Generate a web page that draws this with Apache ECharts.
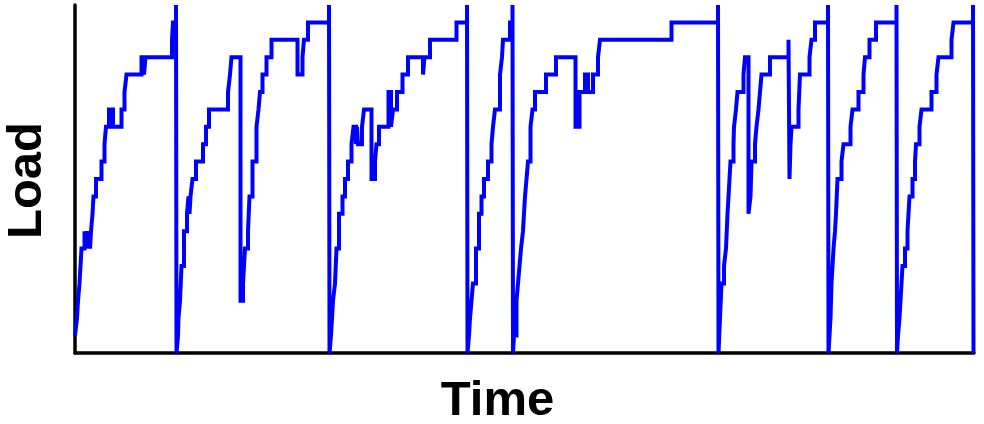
<!DOCTYPE html>
<html>
<head>
<meta charset="utf-8">
<script src="https://cdn.jsdelivr.net/npm/echarts@6/dist/echarts.min.js"></script>
<style>
html,body{margin:0;padding:0;background:#fff;}
#c{width:984px;height:424px;}
</style>
</head>
<body>
<div id="c"></div>
<script>
// Time (arbitrary units) at which the load changes, and the load level from that time on
const time = [
  0,2,3,4.5,5.5,6.5,9.5,11,12,13,14,15,16,17.5,18.5,21,26.5,29.5,31,34,38,46.5,49.5,51.5,66.5,69,70.5,97,98,101,
  101.5,103,103.5,105,106.5,109,112,113.5,114.5,115.5,117.5,121,128,131,134,153,155,156.5,165.5,168,170,173,174.5,177.5,181.5,183.5,185,187.5,191.5,196.5,222.5,227.5,229,233,254,
  254.5,256,258,260,261.5,264,267.5,270,273,276.5,278.5,281,282,283,287,289,296.5,300,301.5,304,313.5,316,318,322,327.5,333,348,349.5,355,381.5,392,
  392.5,394,395,396.5,398,401,404,406.5,409,413,416.5,418,420,425,427,428,435,437.5,
  438,439,441.5,443,444.5,446,448,450,451.5,453,455.5,457.5,460,471,481,500.5,504.5,510,513,518,523,525,596.5,643,
  643.5,645,646.5,649,651,652.5,653.5,655.5,658.5,659,661,662.5,668.5,670,673.5,675.5,676.5,680,681.5,683.5,685,686.5,695,713.5,714.5,715.5,716.5,723.5,725,734.5,736.5,740,753,
  753.5,754.5,755.5,756.5,758.5,760,761,762.5,766.5,768.5,775.5,777.5,783.5,788.5,790,794.5,801,821.5,
  822,823,824.5,825.5,827.5,830,832.5,834.5,837.5,840,841,844.5,846.5,856.5,861.5,863.5,876.5,878.5,898,898.5
];
const load = [
  1,2,3,4,5,6,7,6,7,6,7,6,7,8,9,10,11,12,13,14,13,14,15,16,17,16,17,18,19,20,
  0,1,2,3,5,7,8,9,8,9,10,11,12,13,14,15,16,17,3,4,6,7,9,11,13,14,15,16,17,18,16,17,18,19,20,
  0,1,3,4,6,8,9,10,11,12,13,12,13,12,13,14,10,11,12,13,15,13,14,15,16,17,16,17,18,19,20,
  0,1,2,3,4,6,8,9,10,11,12,13,14,16,17,18,19,20,
  0,1,3,4,5,6,7,9,10,11,13,14,15,16,17,13,15,16,15,16,17,18,19,20,
  0,2,4,5,6,8,9,11,12,13,14,15,16,17,8,9,11,12,13,14,15,16,17,18,10,12,13,14,16,17,18,19,20,
  0,1,2,4,6,7,8,10,11,12,13,14,15,16,17,18,19,20,
  0,1,2,3,5,6,7,9,10,11,12,13,14,15,16,17,18,19,20,0
];
const xName = 'Time';
const yName = 'Load';

const points = time.map((t, i) => [t, load[i]]);
const titleFont = 'bold 49px "Liberation Sans", Arial, sans-serif';

const chart = echarts.init(document.getElementById('c'), null, {renderer: 'canvas'});
chart.setOption({
  animation: false,
  backgroundColor: '#ffffff',
  grid: {left: 75, right: 10, top: 5, bottom: 71, containLabel: false, outerBoundsMode: 'none'},
  xAxis: {
    type: 'value', min: 0, max: 899,
    axisLine: {show: true, onZero: false, lineStyle: {color: '#000', width: 3.5}},
    axisTick: {show: false}, axisLabel: {show: false}, splitLine: {show: false}
  },
  yAxis: {
    type: 'value', min: 0, max: 20,
    axisLine: {show: true, onZero: false, lineStyle: {color: '#000', width: 3.5}},
    axisTick: {show: false}, axisLabel: {show: false}, splitLine: {show: false}
  },
  graphic: [
    {type: 'text', x: 497.5, y: 401.5, style: {text: xName, font: titleFont, fill: '#000', align: 'center', verticalAlign: 'middle'}},
    {type: 'text', x: 27.5, y: 180.5, rotation: Math.PI / 2, style: {text: yName, font: titleFont, fill: '#000', align: 'center', verticalAlign: 'middle'}}
  ],
  series: [{
    type: 'line',
    step: 'end',
    data: points,
    showSymbol: false,
    clip: false,
    lineStyle: {color: '#0000ff', width: 4, join: 'miter'},
    z: 3
  }]
});
</script>
</body>
</html>
